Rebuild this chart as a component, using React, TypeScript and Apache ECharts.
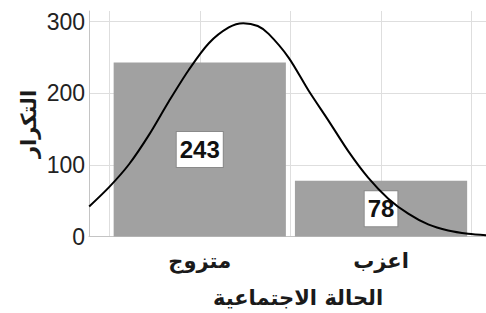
import React, { useEffect, useRef } from "react";
import * as echarts from "echarts";

// Categories (placed at x = 1 and x = 2 on the value axis)
const categories = ["متزوج", "اعزب"];
const categoryPositions = [1, 2];
const frequencies = [243, 78];

// Normal curve
const curveX = [0.39, 0.5, 0.61, 0.72, 0.83, 0.94, 1.05, 1.16, 1.24, 1.32, 1.38, 1.49, 1.6, 1.71, 1.82, 1.93, 2.04, 2.15, 2.26, 2.37, 2.48, 2.58];
const curveY = [42, 69, 101, 142, 189, 233, 270, 292, 298, 294, 283, 250, 204, 162, 119, 82, 53, 32, 17, 8.5, 4, 2];

const xAxisTitle = "الحالة الاجتماعية";
const yAxisTitle = "التكرار";

export default function App() {
  const ref = useRef<HTMLDivElement>(null);
  useEffect(() => {
    if (!ref.current) return;
    const chart = echarts.init(ref.current, null, { renderer: "svg" });
    const arabicFont = "'DejaVu Sans', 'Noto Sans', sans-serif";
    const option: any = {
      animation: false,
      backgroundColor: "#ffffff",
      grid: { left: 89, right: 0, top: 11, bottom: 76.4 },
      xAxis: {
        type: "value",
        min: 0.389,
        max: 2.579,
        axisLine: { show: true, lineStyle: { color: "#c4c4c4", width: 1 } },
        axisTick: { show: false },
        splitLine: { show: true, showMinLine: false, showMaxLine: false, lineStyle: { color: "#dedede", width: 1 } },
        axisLabel: {
          showMinLabel: false,
          showMaxLabel: false,
          margin: 14,
          fontSize: 21,
          fontWeight: "bold",
          fontFamily: arabicFont,
          color: "#1a1a1a",
          formatter: (v: number) => {
            const i = categoryPositions.indexOf(v);
            return i >= 0 ? categories[i] : "";
          },
        },
      },
      yAxis: {
        type: "value",
        min: 0,
        max: 315,
        interval: 100,
        axisLine: { show: true, lineStyle: { color: "#c4c4c4", width: 1 } },
        axisTick: { show: false },
        splitLine: { show: true, showMaxLine: false, lineStyle: { color: "#dedede", width: 1 } },
        axisLabel: {
          showMaxLabel: false,
          margin: 4,
          fontSize: 23,
          fontFamily: "'Liberation Sans', Arial, sans-serif",
          color: "#222",
          padding: [8, 0, 0, 0],
        },
      },
      graphic: [
        {
          type: "text",
          x: 298,
          y: 298,
          style: {
            text: xAxisTitle,
            align: "center",
            verticalAlign: "middle",
            font: "bold 21px " + arabicFont,
            fill: "#1a1a1a",
          },
        },
        {
          type: "text",
          x: 29,
          y: 124,
          rotation: Math.PI / 2,
          style: {
            text: yAxisTitle,
            align: "center",
            verticalAlign: "middle",
            font: "bold 21px " + arabicFont,
            fill: "#1a1a1a",
          },
        },
      ],
      series: [
        {
          type: "custom",
          z: 2,
          data: categoryPositions.map((p, i) => [p, frequencies[i]]),
          renderItem: (_params: any, api: any) => {
            const x = api.value(0);
            const v = api.value(1);
            const half = 0.475;
            const p0 = api.coord([x - half, v]);
            const p1 = api.coord([x + half, 0]);
            const mid = api.coord([x, v / 2]);
            return {
              type: "group",
              children: [
                {
                  type: "rect",
                  shape: { x: p0[0], y: p0[1], width: p1[0] - p0[0], height: p1[1] - p0[1] },
                  style: { fill: "#a1a1a1" },
                },
                {
                  type: "text",
                  x: mid[0],
                  y: mid[1],
                  style: {
                    text: String(v),
                    align: "center",
                    verticalAlign: "middle",
                    font: "bold 24px 'Liberation Sans Narrow', 'Liberation Sans', Arial, sans-serif",
                    fill: "#111",
                    backgroundColor: "#ffffff",
                    borderColor: "#8a8a8a",
                    borderWidth: 1,
                    padding: [6, 3, 5, 3],
                  },
                },
              ],
            };
          },
        },
        {
          type: "line",
          z: 5,
          smooth: 0.3,
          showSymbol: false,
          symbol: "none",
          data: curveX.map((x, i) => [x, curveY[i]]),
          lineStyle: { color: "#000000", width: 2 },
        },
      ],
    };
    chart.setOption(option);
    return () => chart.dispose();
  }, []);
  return <div ref={ref} style={{ position: "fixed", left: 0, top: 0, width: 486, height: 313 }} />;
}
